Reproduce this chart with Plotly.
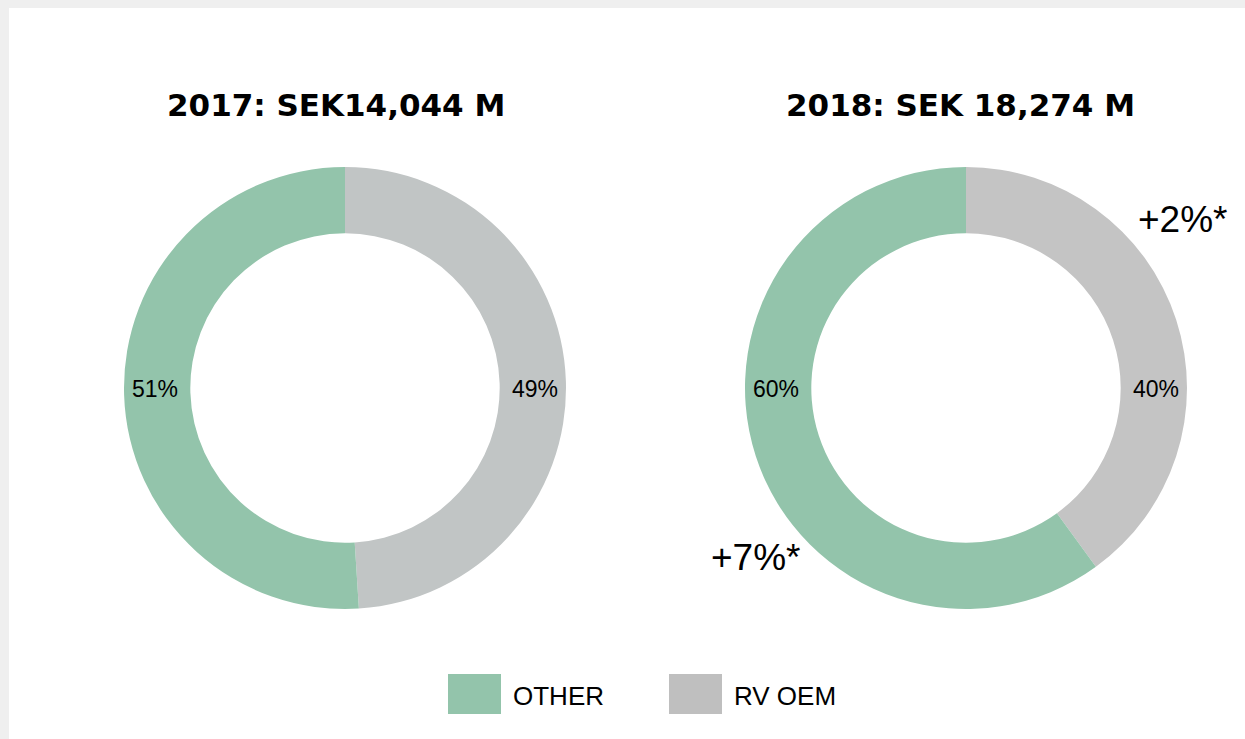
"""Donut charts: revenue split 2017 vs 2018."""

import plotly.graph_objects as go

W, H = 1245, 739

# Slices listed clockwise from 12 o'clock
labels = ["RV OEM", "OTHER"]
values_2017 = [49, 51]
values_2018 = [40, 60]
legend_labels = ["OTHER", "RV OEM"]
titles = ["2017: SEK14,044 M", "2018: SEK 18,274 M"]
growth_labels = ["+7%*", "+2%*"]

green = "#93c4ab"
grey_2017 = "#c1c5c5"
grey_2018 = "#c4c4c4"
legend_grey = "#bfbfbf"

# Donut geometry in pixels
centers_x = [345, 966]
center_y = 388
r_outer = 221
hole = 0.70
r_label = 190


def px_x(x):
    return x / W


def px_y(y):
    return 1 - y / H


fig = go.Figure()
annotations = []

# Donuts
for vals, greys, cx in zip(
    [values_2017, values_2018], [grey_2017, grey_2018], centers_x
):
    fig.add_trace(
        go.Pie(
            labels=labels,
            values=vals,
            hole=hole,
            sort=False,
            direction="clockwise",
            rotation=0,
            marker=dict(colors=[greys, green], line=dict(width=0)),
            textinfo="none",
            domain=dict(
                x=[px_x(cx - r_outer), px_x(cx + r_outer)],
                y=[px_y(center_y + r_outer), px_y(center_y - r_outer)],
            ),
            showlegend=False,
            hoverinfo="label+percent",
        )
    )
    # Percent labels at 3 and 9 o'clock on the ring
    total = sum(vals)
    for v, side in zip(vals, [1, -1]):
        annotations.append(
            dict(
                text=f"{round(100 * v / total)}%",
                x=px_x(cx + side * r_label),
                y=px_y(center_y + 1),
                xref="paper",
                yref="paper",
                xanchor="center",
                yanchor="middle",
                showarrow=False,
                font=dict(family="Arial", size=23, color="black"),
            )
        )

# Titles
for text, cx in zip(titles, [336, 960]):
    annotations.append(
        dict(
            text=f"<b>{text}</b>",
            x=px_x(cx),
            y=px_y(105),
            xref="paper",
            yref="paper",
            xanchor="center",
            yanchor="middle",
            showarrow=False,
            font=dict(family="DejaVu Sans", size=31, color="black"),
        )
    )

# Growth labels
for text, (ax, ay) in zip(growth_labels, [(755, 557), (1182, 220)]):
    annotations.append(
        dict(
            text=text,
            x=px_x(ax),
            y=px_y(ay),
            xref="paper",
            yref="paper",
            xanchor="center",
            yanchor="middle",
            showarrow=False,
            font=dict(family="Arial", size=37, color="black"),
        )
    )

# White panel over the grey page edge
shapes = [
    dict(
        type="rect",
        xref="paper",
        yref="paper",
        x0=px_x(9),
        x1=1.01,
        y0=-0.01,
        y1=px_y(8),
        fillcolor="white",
        line=dict(width=0),
        layer="below",
    )
]
# Legend (drawn by hand to get the large swatches)
for name, color, sx in zip(legend_labels, [green, legend_grey], [448, 669]):
    shapes.append(
        dict(
            type="rect",
            xref="paper",
            yref="paper",
            x0=px_x(sx),
            x1=px_x(sx + 53),
            y0=px_y(714),
            y1=px_y(674),
            fillcolor=color,
            line=dict(width=0),
        )
    )
    annotations.append(
        dict(
            text=name,
            x=px_x(sx + 63),
            y=px_y(696),
            xref="paper",
            yref="paper",
            xanchor="left",
            yanchor="middle",
            showarrow=False,
            font=dict(family="Arial", size=26, color="black"),
        )
    )

fig.update_layout(
    width=W,
    height=H,
    margin=dict(l=0, r=0, t=0, b=0),
    paper_bgcolor="#efefef",
    plot_bgcolor="white",
    annotations=annotations,
    shapes=shapes,
)

fig.write_html(
    "out.html",
    config={"displayModeBar": False},
    post_script="document.body.style.margin='0';"
    "document.body.style.background='#efefef';",
)
